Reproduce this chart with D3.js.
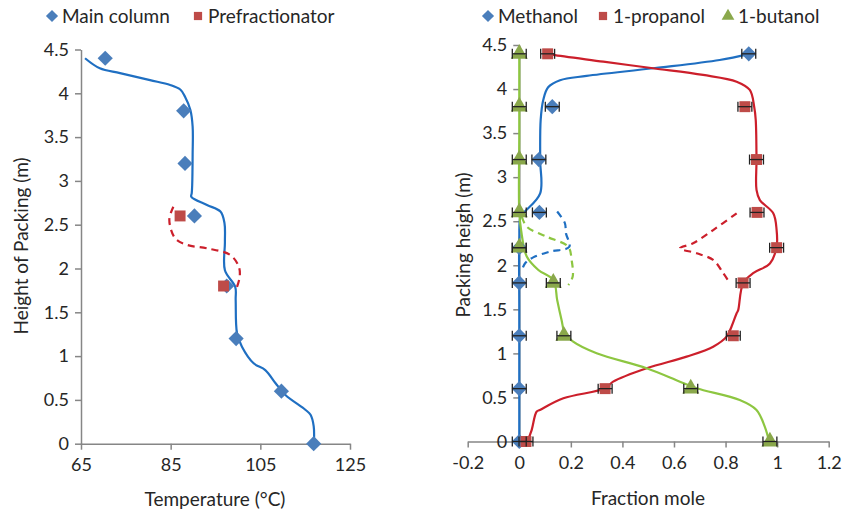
<!DOCTYPE html>
<meta charset="utf-8">
<title>Temperature and composition profiles</title>
<style>
body { margin:0; background:#fff; }
svg text { font-family: Lato, "Open Sans", sans-serif; fill:#262626; }
.tick text { font-size:18px; }
.tick line, .domain { stroke:#868686; stroke-width:1.5px; }
.lbl { font-size:19px; }
</style>
<svg width="846" height="517"></svg>
<script src="https://d3js.org/d3.v7.min.js"></script>
<script>
// ---- left panel data: temperature (C) vs height (m)
var mainT   = [70.4, 87.9, 88.2, 90.3, 97.5, 99.6, 109.7, 116.9];
var mainH   = [4.4, 3.8, 3.2, 2.6, 1.8, 1.2, 0.6, 0];
var preT    = [87.1, 96.8];
var preH    = [2.6, 1.8];
// simulated profiles (traced)
var mainCurve = [[65.9,4.40],[69.2,4.285],[73.7,4.23],[80.4,4.15],[84.9,4.095],[87.2,4.04],[88.2,3.96],[89.4,3.81],[89.9,3.62],
  [89.9,3.3],[89.8,2.95],[89.7,2.86],[89.6,2.82],[93.1,2.725],[96.1,2.65],[97.0,2.52],[97.1,2.3],[97.1,1.98],[99.4,1.79],
  [99.5,1.64],[99.8,1.26],[100.9,1.107],[103.5,0.918],[106.1,0.84],[108.4,0.69],[110.6,0.556],[115.1,0.385],[116.2,0.33],[116.9,0.2],[116.95,0]];
var preCurve = [[85.6,2.705],[84.7,2.555],[86.0,2.345],[88.6,2.27],[93.1,2.23],[98.3,2.154],[100.2,2.02],[100.4,1.906],[99.8,1.79]];

// ---- right panel data: mole fraction vs height (m)
var heights  = [4.4, 3.8, 3.2, 2.6, 2.2, 1.8, 1.2, 0.6, 0];
var methanol = [0.89, 0.128, 0.076, 0.078, 0, 0, 0, 0, 0];
var propanol = [0.11, 0.875, 0.92, 0.922, 0.998, 0.868, 0.83, 0.333, 0.026];
var butanol  = [0, 0, 0, 0, 0, 0.132, 0.173, 0.665, 0.972];
var errBar   = 0.027;

var methCurve = [[0.891,4.4],[0.777,4.33],[0.52,4.236],[0.261,4.149],[0.158,4.10],[0.112,4.02],[0.093,3.876],[0.083,3.65],
  [0.081,3.2],[0.081,2.817],[0.022,2.61],[0.005,2.55],[0,2.3],[0,1.5],[0,0.5],[0,0]];
var methDash  = [[0.147,2.61],[0.177,2.477],[0.181,2.363],[0.194,2.21],[0.119,2.155],[0.054,2.09],[0.022,2.02],[0.009,1.93]];
var propCurve = [[0.11,4.4],[0.132,4.387],[0.326,4.311],[0.519,4.236],[0.713,4.16],[0.843,4.084],[0.894,3.99],[0.911,3.80],[0.917,3.65],
  [0.92,3.2],[0.92,2.855],[0.933,2.74],[0.985,2.59],[0.998,2.40],[0.998,2.21],[0.972,2.02],[0.907,1.91],[0.868,1.796],[0.849,1.49],
  [0.843,1.455],[0.823,1.303],[0.804,1.19],[0.752,1.076],[0.649,0.963],[0.494,0.831],[0.364,0.679],[0.333,0.604],[0.171,0.49],
  [0.08,0.358],[0.067,0.338],[0.048,0.13],[0.031,0]];
var propDash  = [[0.843,2.59],[0.752,2.40],[0.674,2.25],[0.623,2.193],[0.688,2.136],[0.752,2.06],[0.791,1.91],[0.817,1.796]];
var butCurve  = [[0,4.4],[0,3.5],[0,2.6],[0.007,2.4],[0.029,2.10],[0.074,1.947],[0.132,1.833],[0.147,1.606],[0.164,1.379],
  [0.177,1.228],[0.209,1.133],[0.3,1.001],[0.494,0.831],[0.623,0.679],[0.688,0.604],[0.855,0.471],[0.92,0.358],[0.952,0.168],[0.969,0]];
var butDash   = [[0.01,2.55],[0.029,2.438],[0.106,2.325],[0.19,2.21],[0.203,2.06],[0.207,1.87],[0.19,1.776]];

var xTicksL = [65, 85, 105, 125];
var xTicksR = [-0.2, 0, 0.2, 0.4, 0.6, 0.8, 1, 1.2];
var yTicks  = [0, 0.5, 1, 1.5, 2, 2.5, 3, 3.5, 4, 4.5];

var cBlueM = "#4a7ebb", cRedM = "#be4b48", cGreenM = "#8aa84b";
var cBlueL = "#1f6fc2", cRedL = "#cc1f2b", cGreenL = "#8dc641";

var svg = d3.select("svg");

// scales
var xL = d3.scaleLinear().domain([65, 125]).range([81, 350]);
var yL = d3.scaleLinear().domain([0, 4.5]).range([443.7, 49.5]);
var xR = d3.scaleLinear().domain([-0.2, 1.2]).range([467.7, 828.7]);
var yR = d3.scaleLinear().domain([0, 4.5]).range([441.5, 45]);

function fmt(d) { return String(+d.toFixed(1)); }

// left axes
svg.append("g").attr("transform", "translate(0," + yL(0) + ")")
  .call(d3.axisBottom(xL).tickValues(xTicksL).tickSize(6).tickSizeOuter(0).tickPadding(9).tickFormat(fmt));
svg.append("g").attr("transform", "translate(" + xL(65) + ",0)")
  .call(d3.axisLeft(yL).tickValues(yTicks).tickSize(6).tickSizeOuter(0).tickPadding(6).tickFormat(fmt));

// right axes
svg.append("g").attr("transform", "translate(0," + yR(0) + ")")
  .call(d3.axisBottom(xR).tickValues(xTicksR).tickSize(6).tickSizeOuter(0).tickPadding(9).tickFormat(fmt));
svg.append("g").attr("transform", "translate(" + xR(0) + ",0)")
  .call(d3.axisLeft(yR).tickValues(yTicks).tickSize(6).tickSizeOuter(0).tickPadding(6).tickFormat(fmt));

svg.selectAll(".tick text").attr("fill", "#262626");

// axis titles
svg.append("text").attr("class", "lbl").attr("x", 215).attr("y", 506).attr("text-anchor", "middle").text("Temperature (°C)");
svg.append("text").attr("class", "lbl").attr("x", 648).attr("y", 505).attr("text-anchor", "middle").text("Fraction mole");
svg.append("text").attr("class", "lbl").attr("transform", "translate(28,246) rotate(-90)").attr("text-anchor", "middle").text("Height of Packing (m)");
svg.append("text").attr("class", "lbl").attr("transform", "translate(470,245) rotate(-90)").attr("text-anchor", "middle").text("Packing heigh (m)");

// lines
function drawLine(pts, xs, ys, color, dashed) {
  var line = d3.line().x(function(d) { return xs(d[0]); }).y(function(d) { return ys(d[1]); })
    .curve(d3.curveCatmullRom.alpha(0.5));
  svg.append("path").datum(pts).attr("d", line).attr("fill", "none")
    .attr("stroke", color).attr("stroke-width", 2.2)
    .attr("stroke-dasharray", dashed ? "7,5" : null);
}
drawLine(mainCurve, xL, yL, cBlueL, false);
drawLine(preCurve, xL, yL, cRedL, true);
drawLine(methCurve, xR, yR, cBlueL, false);
drawLine(methDash, xR, yR, cBlueL, true);
drawLine(propCurve, xR, yR, cRedL, false);
drawLine(propDash, xR, yR, cRedL, true);
drawLine(butCurve, xR, yR, cGreenL, false);
drawLine(butDash, xR, yR, cGreenL, true);

// markers
var diamond = d3.symbol().type(d3.symbolSquare).size(115)();
var square  = d3.symbol().type(d3.symbolSquare).size(120)();
var tri     = d3.symbol().type(d3.symbolTriangle).size(125)();

function drawMarkers(xv, yv, xs, ys, shape, color, rot) {
  svg.append("g").selectAll("path").data(xv).enter().append("path")
    .attr("d", shape).attr("fill", color)
    .attr("transform", function(d, i) { return "translate(" + xs(d) + "," + ys(yv[i]) + ")" + (rot ? " rotate(45)" : ""); });
}
function drawErr(xv, yv) {
  var g = svg.append("g").attr("stroke", "#222").attr("stroke-width", 1.3);
  xv.forEach(function(d, i) {
    var y = yR(yv[i]), x0 = xR(d - errBar), x1 = xR(d + errBar);
    g.append("line").attr("x1", x0).attr("x2", x1).attr("y1", y).attr("y2", y);
    g.append("line").attr("x1", x0).attr("x2", x0).attr("y1", y - 5).attr("y2", y + 5);
    g.append("line").attr("x1", x1).attr("x2", x1).attr("y1", y - 5).attr("y2", y + 5);
  });
}

drawMarkers(mainT, mainH, xL, yL, diamond, cBlueM, true);
drawMarkers(preT, preH, xL, yL, square, cRedM, false);

drawMarkers(methanol, heights, xR, yR, diamond, cBlueM, true);
drawMarkers(propanol, heights, xR, yR, square, cRedM, false);
drawMarkers(butanol, heights, xR, yR, tri, cGreenM, false);
drawErr(methanol, heights);
drawErr(propanol, heights);
drawErr(butanol, heights);

// legends
function legendItem(x, y, shape, color, rot, label) {
  svg.append("path").attr("d", shape).attr("fill", color)
    .attr("transform", "translate(" + x + "," + y + ")" + (rot ? " rotate(45) scale(0.8)" : " scale(0.75)"));
  svg.append("text").attr("class", "lbl").attr("x", x + 10).attr("y", y + 6.5).text(label);
}
legendItem(52, 16, diamond, cBlueM, true, "Main column");
legendItem(198, 16, square, cRedM, false, "Prefractionator");
legendItem(488, 16, diamond, cBlueM, true, "Methanol");
legendItem(603, 16, square, cRedM, false, "1-propanol");
legendItem(728, 16, tri, cGreenM, false, "1-butanol");
</script>
